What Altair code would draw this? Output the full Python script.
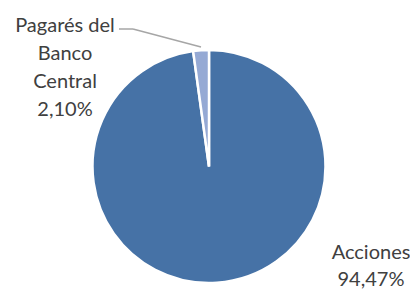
import altair as alt
import pandas as pd

categories = ["Acciones", "Pagarés del Banco Central"]
values = [94.47, 2.10]
value_labels = ["94,47%", "2,10%"]
label_names = ["Acciones", "Pagarés del\nBanco\nCentral"]
colors = ["#4672A6", "#95A9D4"]

df = pd.DataFrame({
    "cat": categories,
    "value": values,
    "order": list(range(len(categories))),
    "label": [n + "\n" + v for n, v in zip(label_names, value_labels)],
})

W, H = 402, 281
CX, CY, R = 201, 158.5, 116.5

base = alt.Chart(df)

pie = base.mark_arc(outerRadius=R, stroke="white", strokeWidth=2.5).encode(
    theta=alt.Theta("value:Q", stack=True),
    color=alt.Color("cat:N", scale=alt.Scale(domain=categories, range=colors), legend=None),
    order=alt.Order("order:Q"),
    x=alt.value(CX),
    y=alt.value(CY),
)

text_common = dict(font="Lato", fontSize=20, color="#404040", lineBreak="\n", align="center")

lab_acc = base.transform_filter(alt.datum.cat == categories[0]).mark_text(
    baseline="alphabetic", lineHeight=27, **text_common
).encode(text="label:N", x=alt.value(363), y=alt.value(251))

lab_pag = base.transform_filter(alt.datum.cat == categories[1]).mark_text(
    baseline="alphabetic", lineHeight=28, **text_common
).encode(text="label:N", x=alt.value(57), y=alt.value(24))

leader1 = base.transform_filter(alt.datum.cat == categories[1]).mark_rule(
    color="#A6A6A6", strokeWidth=1.5
).encode(x=alt.value(111), x2=alt.value(125), y=alt.value(21), y2=alt.value(21))
leader2 = base.transform_filter(alt.datum.cat == categories[1]).mark_rule(
    color="#A6A6A6", strokeWidth=1.5
).encode(x=alt.value(125), x2=alt.value(193), y=alt.value(21), y2=alt.value(39))

chart = alt.layer(pie, leader1, leader2, lab_acc, lab_pag).properties(
    width=W, height=H, autosize=alt.AutoSizeParams(type="none"), padding=0
).configure_view(stroke=None)

chart.save("out.html", embed_options={"renderer": "svg", "actions": False})
